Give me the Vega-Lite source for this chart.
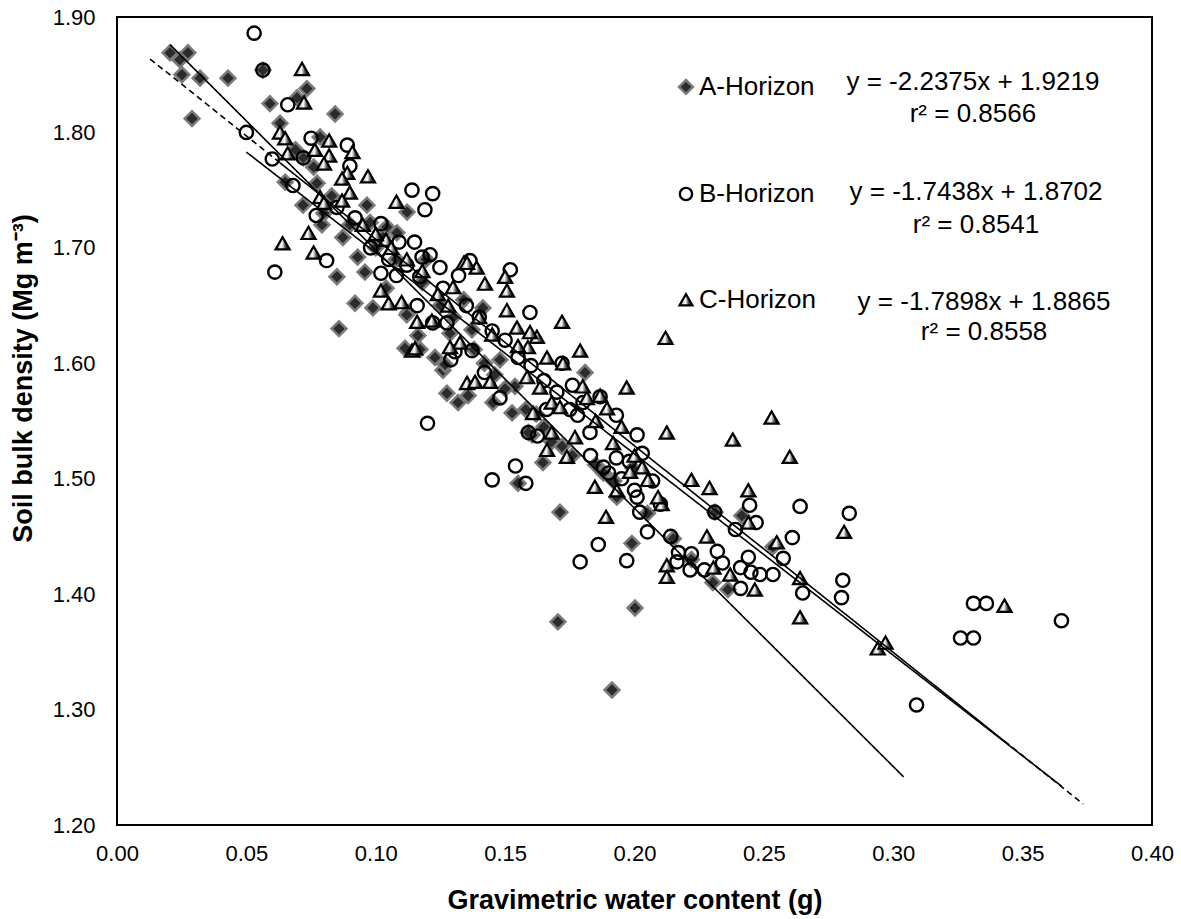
{
  "$schema": "https://vega.github.io/schema/vega-lite/v6.json",
  "width": 1035,
  "height": 808,
  "autosize": {"type": "none"},
  "padding": {"left": 117, "top": 17, "right": 29, "bottom": 94},
  "background": "white",
  "config": {
    "font": "Liberation Sans",
    "view": {"stroke": "#000000", "strokeWidth": 2},
    "axis": {
      "grid": false,
      "ticks": false,
      "tickSize": 0,
      "domain": false,
      "labelFlush": false,
      "labelFont": "Liberation Sans",
      "labelFontSize": 22,
      "labelColor": "#000000",
      "titleFont": "Liberation Sans",
      "titleFontSize": 27,
      "titleFontWeight": "bold",
      "titleColor": "#000000"
    }
  },
  "datasets": {
    "points": [
      {"horizon": "A-Horizon", "w": 0.0205, "bd": 1.869}, {"horizon": "A-Horizon", "w": 0.0243, "bd": 1.863},
      {"horizon": "A-Horizon", "w": 0.0274, "bd": 1.869}, {"horizon": "A-Horizon", "w": 0.0251, "bd": 1.850},
      {"horizon": "A-Horizon", "w": 0.0321, "bd": 1.847}, {"horizon": "A-Horizon", "w": 0.0429, "bd": 1.847},
      {"horizon": "A-Horizon", "w": 0.029, "bd": 1.812}, {"horizon": "A-Horizon", "w": 0.0591, "bd": 1.825},
      {"horizon": "A-Horizon", "w": 0.0734, "bd": 1.838}, {"horizon": "A-Horizon", "w": 0.0696, "bd": 1.830},
      {"horizon": "A-Horizon", "w": 0.0843, "bd": 1.816}, {"horizon": "A-Horizon", "w": 0.063, "bd": 1.808},
      {"horizon": "A-Horizon", "w": 0.0785, "bd": 1.796}, {"horizon": "A-Horizon", "w": 0.065, "bd": 1.757},
      {"horizon": "A-Horizon", "w": 0.0719, "bd": 1.737}, {"horizon": "A-Horizon", "w": 0.0773, "bd": 1.756},
      {"horizon": "A-Horizon", "w": 0.085, "bd": 1.675}, {"horizon": "A-Horizon", "w": 0.093, "bd": 1.692},
      {"horizon": "A-Horizon", "w": 0.0966, "bd": 1.737}, {"horizon": "A-Horizon", "w": 0.0873, "bd": 1.709},
      {"horizon": "A-Horizon", "w": 0.0564, "bd": 1.854}, {"horizon": "A-Horizon", "w": 0.072, "bd": 1.778},
      {"horizon": "A-Horizon", "w": 0.1121, "bd": 1.731}, {"horizon": "A-Horizon", "w": 0.0978, "bd": 1.722},
      {"horizon": "A-Horizon", "w": 0.1043, "bd": 1.718}, {"horizon": "A-Horizon", "w": 0.1082, "bd": 1.713},
      {"horizon": "A-Horizon", "w": 0.1028, "bd": 1.709}, {"horizon": "A-Horizon", "w": 0.0958, "bd": 1.679},
      {"horizon": "A-Horizon", "w": 0.092, "bd": 1.652}, {"horizon": "A-Horizon", "w": 0.0989, "bd": 1.648},
      {"horizon": "A-Horizon", "w": 0.0858, "bd": 1.630}, {"horizon": "A-Horizon", "w": 0.1113, "bd": 1.613},
      {"horizon": "A-Horizon", "w": 0.1171, "bd": 1.612}, {"horizon": "A-Horizon", "w": 0.1229, "bd": 1.605},
      {"horizon": "A-Horizon", "w": 0.126, "bd": 1.594}, {"horizon": "A-Horizon", "w": 0.1275, "bd": 1.574},
      {"horizon": "A-Horizon", "w": 0.1125, "bd": 1.644}, {"horizon": "A-Horizon", "w": 0.0792, "bd": 1.720},
      {"horizon": "A-Horizon", "w": 0.1163, "bd": 1.624}, {"horizon": "A-Horizon", "w": 0.1268, "bd": 1.599},
      {"horizon": "A-Horizon", "w": 0.1318, "bd": 1.566}, {"horizon": "A-Horizon", "w": 0.1357, "bd": 1.572},
      {"horizon": "A-Horizon", "w": 0.1453, "bd": 1.566}, {"horizon": "A-Horizon", "w": 0.1527, "bd": 1.557},
      {"horizon": "A-Horizon", "w": 0.1538, "bd": 1.580}, {"horizon": "A-Horizon", "w": 0.148, "bd": 1.603},
      {"horizon": "A-Horizon", "w": 0.1414, "bd": 1.648}, {"horizon": "A-Horizon", "w": 0.112, "bd": 1.642},
      {"horizon": "A-Horizon", "w": 0.1604, "bd": 1.538}, {"horizon": "A-Horizon", "w": 0.1646, "bd": 1.514},
      {"horizon": "A-Horizon", "w": 0.155, "bd": 1.496}, {"horizon": "A-Horizon", "w": 0.1712, "bd": 1.471},
      {"horizon": "A-Horizon", "w": 0.199, "bd": 1.444}, {"horizon": "A-Horizon", "w": 0.1809, "bd": 1.592},
      {"horizon": "A-Horizon", "w": 0.1932, "bd": 1.484}, {"horizon": "A-Horizon", "w": 0.1994, "bd": 1.509},
      {"horizon": "A-Horizon", "w": 0.1372, "bd": 1.629}, {"horizon": "A-Horizon", "w": 0.1287, "bd": 1.626},
      {"horizon": "A-Horizon", "w": 0.1704, "bd": 1.376}, {"horizon": "A-Horizon", "w": 0.1913, "bd": 1.317},
      {"horizon": "A-Horizon", "w": 0.2002, "bd": 1.388}, {"horizon": "A-Horizon", "w": 0.2415, "bd": 1.468},
      {"horizon": "A-Horizon", "w": 0.2303, "bd": 1.410}, {"horizon": "A-Horizon", "w": 0.2361, "bd": 1.404},
      {"horizon": "A-Horizon", "w": 0.2535, "bd": 1.441}, {"horizon": "A-Horizon", "w": 0.2311, "bd": 1.471},
      {"horizon": "A-Horizon", "w": 0.138, "bd": 1.612}, {"horizon": "A-Horizon", "w": 0.142, "bd": 1.600},
      {"horizon": "A-Horizon", "w": 0.146, "bd": 1.590}, {"horizon": "A-Horizon", "w": 0.150, "bd": 1.578},
      {"horizon": "A-Horizon", "w": 0.158, "bd": 1.560}, {"horizon": "A-Horizon", "w": 0.162, "bd": 1.556},
      {"horizon": "A-Horizon", "w": 0.168, "bd": 1.532}, {"horizon": "A-Horizon", "w": 0.172, "bd": 1.528},
      {"horizon": "A-Horizon", "w": 0.176, "bd": 1.520}, {"horizon": "A-Horizon", "w": 0.185, "bd": 1.512},
      {"horizon": "A-Horizon", "w": 0.188, "bd": 1.505}, {"horizon": "A-Horizon", "w": 0.192, "bd": 1.498},
      {"horizon": "A-Horizon", "w": 0.205, "bd": 1.470}, {"horizon": "A-Horizon", "w": 0.215, "bd": 1.448},
      {"horizon": "A-Horizon", "w": 0.222, "bd": 1.430}, {"horizon": "A-Horizon", "w": 0.118, "bd": 1.670},
      {"horizon": "A-Horizon", "w": 0.125, "bd": 1.650}, {"horizon": "A-Horizon", "w": 0.130, "bd": 1.640},
      {"horizon": "A-Horizon", "w": 0.108, "bd": 1.690}, {"horizon": "A-Horizon", "w": 0.104, "bd": 1.665},
      {"horizon": "A-Horizon", "w": 0.100, "bd": 1.700}, {"horizon": "A-Horizon", "w": 0.090, "bd": 1.720},
      {"horizon": "A-Horizon", "w": 0.083, "bd": 1.745}, {"horizon": "A-Horizon", "w": 0.080, "bd": 1.730},
      {"horizon": "A-Horizon", "w": 0.076, "bd": 1.770}, {"horizon": "A-Horizon", "w": 0.069, "bd": 1.785},
      {"horizon": "A-Horizon", "w": 0.159, "bd": 1.540}, {"horizon": "A-Horizon", "w": 0.1195, "bd": 1.690},
      {"horizon": "A-Horizon", "w": 0.134, "bd": 1.655}, {"horizon": "A-Horizon", "w": 0.165, "bd": 1.545},

      {"horizon": "B-Horizon", "w": 0.053, "bd": 1.886}, {"horizon": "B-Horizon", "w": 0.0564, "bd": 1.854},
      {"horizon": "B-Horizon", "w": 0.066, "bd": 1.824}, {"horizon": "B-Horizon", "w": 0.050, "bd": 1.800},
      {"horizon": "B-Horizon", "w": 0.060, "bd": 1.777}, {"horizon": "B-Horizon", "w": 0.068, "bd": 1.754},
      {"horizon": "B-Horizon", "w": 0.075, "bd": 1.795}, {"horizon": "B-Horizon", "w": 0.089, "bd": 1.789},
      {"horizon": "B-Horizon", "w": 0.090, "bd": 1.771}, {"horizon": "B-Horizon", "w": 0.114, "bd": 1.750},
      {"horizon": "B-Horizon", "w": 0.122, "bd": 1.747}, {"horizon": "B-Horizon", "w": 0.119, "bd": 1.733},
      {"horizon": "B-Horizon", "w": 0.077, "bd": 1.728}, {"horizon": "B-Horizon", "w": 0.092, "bd": 1.726},
      {"horizon": "B-Horizon", "w": 0.085, "bd": 1.735}, {"horizon": "B-Horizon", "w": 0.102, "bd": 1.721},
      {"horizon": "B-Horizon", "w": 0.109, "bd": 1.705}, {"horizon": "B-Horizon", "w": 0.115, "bd": 1.705},
      {"horizon": "B-Horizon", "w": 0.121, "bd": 1.694}, {"horizon": "B-Horizon", "w": 0.081, "bd": 1.689},
      {"horizon": "B-Horizon", "w": 0.061, "bd": 1.679}, {"horizon": "B-Horizon", "w": 0.072, "bd": 1.778},
      {"horizon": "B-Horizon", "w": 0.1179, "bd": 1.692}, {"horizon": "B-Horizon", "w": 0.102, "bd": 1.678},
      {"horizon": "B-Horizon", "w": 0.108, "bd": 1.676}, {"horizon": "B-Horizon", "w": 0.117, "bd": 1.675},
      {"horizon": "B-Horizon", "w": 0.132, "bd": 1.676}, {"horizon": "B-Horizon", "w": 0.1248, "bd": 1.683},
      {"horizon": "B-Horizon", "w": 0.116, "bd": 1.650}, {"horizon": "B-Horizon", "w": 0.122, "bd": 1.635},
      {"horizon": "B-Horizon", "w": 0.1275, "bd": 1.635}, {"horizon": "B-Horizon", "w": 0.129, "bd": 1.603},
      {"horizon": "B-Horizon", "w": 0.1306, "bd": 1.610}, {"horizon": "B-Horizon", "w": 0.120, "bd": 1.548},
      {"horizon": "B-Horizon", "w": 0.154, "bd": 1.511}, {"horizon": "B-Horizon", "w": 0.145, "bd": 1.499},
      {"horizon": "B-Horizon", "w": 0.158, "bd": 1.496}, {"horizon": "B-Horizon", "w": 0.186, "bd": 1.443},
      {"horizon": "B-Horizon", "w": 0.205, "bd": 1.454}, {"horizon": "B-Horizon", "w": 0.214, "bd": 1.450},
      {"horizon": "B-Horizon", "w": 0.201, "bd": 1.538}, {"horizon": "B-Horizon", "w": 0.193, "bd": 1.555},
      {"horizon": "B-Horizon", "w": 0.159, "bd": 1.540}, {"horizon": "B-Horizon", "w": 0.152, "bd": 1.681},
      {"horizon": "B-Horizon", "w": 0.1596, "bd": 1.644}, {"horizon": "B-Horizon", "w": 0.148, "bd": 1.570},
      {"horizon": "B-Horizon", "w": 0.142, "bd": 1.592}, {"horizon": "B-Horizon", "w": 0.176, "bd": 1.581},
      {"horizon": "B-Horizon", "w": 0.1828, "bd": 1.540}, {"horizon": "B-Horizon", "w": 0.193, "bd": 1.518},
      {"horizon": "B-Horizon", "w": 0.202, "bd": 1.471}, {"horizon": "B-Horizon", "w": 0.203, "bd": 1.522},
      {"horizon": "B-Horizon", "w": 0.201, "bd": 1.484}, {"horizon": "B-Horizon", "w": 0.1364, "bd": 1.689},
      {"horizon": "B-Horizon", "w": 0.1801, "bd": 1.566}, {"horizon": "B-Horizon", "w": 0.1867, "bd": 1.571},
      {"horizon": "B-Horizon", "w": 0.1372, "bd": 1.611}, {"horizon": "B-Horizon", "w": 0.197, "bd": 1.429},
      {"horizon": "B-Horizon", "w": 0.217, "bd": 1.436}, {"horizon": "B-Horizon", "w": 0.222, "bd": 1.435},
      {"horizon": "B-Horizon", "w": 0.232, "bd": 1.437}, {"horizon": "B-Horizon", "w": 0.2164, "bd": 1.428},
      {"horizon": "B-Horizon", "w": 0.2215, "bd": 1.421}, {"horizon": "B-Horizon", "w": 0.227, "bd": 1.421},
      {"horizon": "B-Horizon", "w": 0.234, "bd": 1.427}, {"horizon": "B-Horizon", "w": 0.244, "bd": 1.432},
      {"horizon": "B-Horizon", "w": 0.241, "bd": 1.423}, {"horizon": "B-Horizon", "w": 0.245, "bd": 1.419},
      {"horizon": "B-Horizon", "w": 0.2485, "bd": 1.417}, {"horizon": "B-Horizon", "w": 0.2535, "bd": 1.417},
      {"horizon": "B-Horizon", "w": 0.241, "bd": 1.405}, {"horizon": "B-Horizon", "w": 0.2445, "bd": 1.477},
      {"horizon": "B-Horizon", "w": 0.247, "bd": 1.462}, {"horizon": "B-Horizon", "w": 0.239, "bd": 1.456},
      {"horizon": "B-Horizon", "w": 0.261, "bd": 1.449}, {"horizon": "B-Horizon", "w": 0.2575, "bd": 1.431},
      {"horizon": "B-Horizon", "w": 0.264, "bd": 1.476}, {"horizon": "B-Horizon", "w": 0.283, "bd": 1.470},
      {"horizon": "B-Horizon", "w": 0.2805, "bd": 1.412}, {"horizon": "B-Horizon", "w": 0.280, "bd": 1.397},
      {"horizon": "B-Horizon", "w": 0.265, "bd": 1.401}, {"horizon": "B-Horizon", "w": 0.231, "bd": 1.471},
      {"horizon": "B-Horizon", "w": 0.309, "bd": 1.304}, {"horizon": "B-Horizon", "w": 0.326, "bd": 1.362},
      {"horizon": "B-Horizon", "w": 0.331, "bd": 1.362}, {"horizon": "B-Horizon", "w": 0.331, "bd": 1.392},
      {"horizon": "B-Horizon", "w": 0.336, "bd": 1.392}, {"horizon": "B-Horizon", "w": 0.365, "bd": 1.377},
      {"horizon": "B-Horizon", "w": 0.179, "bd": 1.428}, {"horizon": "B-Horizon", "w": 0.098, "bd": 1.700},
      {"horizon": "B-Horizon", "w": 0.105, "bd": 1.690}, {"horizon": "B-Horizon", "w": 0.112, "bd": 1.685},
      {"horizon": "B-Horizon", "w": 0.126, "bd": 1.665}, {"horizon": "B-Horizon", "w": 0.135, "bd": 1.650},
      {"horizon": "B-Horizon", "w": 0.140, "bd": 1.640}, {"horizon": "B-Horizon", "w": 0.145, "bd": 1.628},
      {"horizon": "B-Horizon", "w": 0.150, "bd": 1.620}, {"horizon": "B-Horizon", "w": 0.155, "bd": 1.605},
      {"horizon": "B-Horizon", "w": 0.160, "bd": 1.598}, {"horizon": "B-Horizon", "w": 0.165, "bd": 1.585},
      {"horizon": "B-Horizon", "w": 0.170, "bd": 1.575}, {"horizon": "B-Horizon", "w": 0.172, "bd": 1.600},
      {"horizon": "B-Horizon", "w": 0.175, "bd": 1.560}, {"horizon": "B-Horizon", "w": 0.178, "bd": 1.555},
      {"horizon": "B-Horizon", "w": 0.183, "bd": 1.520}, {"horizon": "B-Horizon", "w": 0.188, "bd": 1.510},
      {"horizon": "B-Horizon", "w": 0.190, "bd": 1.505}, {"horizon": "B-Horizon", "w": 0.195, "bd": 1.500},
      {"horizon": "B-Horizon", "w": 0.198, "bd": 1.515}, {"horizon": "B-Horizon", "w": 0.200, "bd": 1.490},
      {"horizon": "B-Horizon", "w": 0.207, "bd": 1.498}, {"horizon": "B-Horizon", "w": 0.210, "bd": 1.478},
      {"horizon": "B-Horizon", "w": 0.166, "bd": 1.560}, {"horizon": "B-Horizon", "w": 0.1625, "bd": 1.537},

      {"horizon": "C-Horizon", "w": 0.0715, "bd": 1.855}, {"horizon": "C-Horizon", "w": 0.0723, "bd": 1.826},
      {"horizon": "C-Horizon", "w": 0.063, "bd": 1.800}, {"horizon": "C-Horizon", "w": 0.065, "bd": 1.795},
      {"horizon": "C-Horizon", "w": 0.066, "bd": 1.782}, {"horizon": "C-Horizon", "w": 0.082, "bd": 1.793},
      {"horizon": "C-Horizon", "w": 0.0765, "bd": 1.785}, {"horizon": "C-Horizon", "w": 0.082, "bd": 1.780},
      {"horizon": "C-Horizon", "w": 0.080, "bd": 1.773}, {"horizon": "C-Horizon", "w": 0.091, "bd": 1.783},
      {"horizon": "C-Horizon", "w": 0.089, "bd": 1.765}, {"horizon": "C-Horizon", "w": 0.087, "bd": 1.760},
      {"horizon": "C-Horizon", "w": 0.097, "bd": 1.762}, {"horizon": "C-Horizon", "w": 0.0785, "bd": 1.744},
      {"horizon": "C-Horizon", "w": 0.080, "bd": 1.739}, {"horizon": "C-Horizon", "w": 0.090, "bd": 1.748},
      {"horizon": "C-Horizon", "w": 0.087, "bd": 1.741}, {"horizon": "C-Horizon", "w": 0.108, "bd": 1.740},
      {"horizon": "C-Horizon", "w": 0.064, "bd": 1.704}, {"horizon": "C-Horizon", "w": 0.074, "bd": 1.713},
      {"horizon": "C-Horizon", "w": 0.076, "bd": 1.696}, {"horizon": "C-Horizon", "w": 0.104, "bd": 1.707},
      {"horizon": "C-Horizon", "w": 0.102, "bd": 1.663}, {"horizon": "C-Horizon", "w": 0.105, "bd": 1.652},
      {"horizon": "C-Horizon", "w": 0.110, "bd": 1.653}, {"horizon": "C-Horizon", "w": 0.116, "bd": 1.636},
      {"horizon": "C-Horizon", "w": 0.114, "bd": 1.611}, {"horizon": "C-Horizon", "w": 0.134, "bd": 1.687},
      {"horizon": "C-Horizon", "w": 0.1299, "bd": 1.666}, {"horizon": "C-Horizon", "w": 0.1326, "bd": 1.618},
      {"horizon": "C-Horizon", "w": 0.1353, "bd": 1.583}, {"horizon": "C-Horizon", "w": 0.212, "bd": 1.622},
      {"horizon": "C-Horizon", "w": 0.197, "bd": 1.579}, {"horizon": "C-Horizon", "w": 0.179, "bd": 1.611},
      {"horizon": "C-Horizon", "w": 0.172, "bd": 1.636}, {"horizon": "C-Horizon", "w": 0.2125, "bd": 1.540},
      {"horizon": "C-Horizon", "w": 0.222, "bd": 1.499}, {"horizon": "C-Horizon", "w": 0.189, "bd": 1.467},
      {"horizon": "C-Horizon", "w": 0.2105, "bd": 1.478}, {"horizon": "C-Horizon", "w": 0.228, "bd": 1.450},
      {"horizon": "C-Horizon", "w": 0.2125, "bd": 1.425}, {"horizon": "C-Horizon", "w": 0.2125, "bd": 1.415},
      {"horizon": "C-Horizon", "w": 0.2305, "bd": 1.423}, {"horizon": "C-Horizon", "w": 0.237, "bd": 1.417},
      {"horizon": "C-Horizon", "w": 0.2465, "bd": 1.404}, {"horizon": "C-Horizon", "w": 0.244, "bd": 1.462},
      {"horizon": "C-Horizon", "w": 0.255, "bd": 1.445}, {"horizon": "C-Horizon", "w": 0.281, "bd": 1.454},
      {"horizon": "C-Horizon", "w": 0.264, "bd": 1.414}, {"horizon": "C-Horizon", "w": 0.264, "bd": 1.380},
      {"horizon": "C-Horizon", "w": 0.294, "bd": 1.353}, {"horizon": "C-Horizon", "w": 0.297, "bd": 1.358},
      {"horizon": "C-Horizon", "w": 0.343, "bd": 1.390}, {"horizon": "C-Horizon", "w": 0.253, "bd": 1.553},
      {"horizon": "C-Horizon", "w": 0.260, "bd": 1.519}, {"horizon": "C-Horizon", "w": 0.238, "bd": 1.534},
      {"horizon": "C-Horizon", "w": 0.229, "bd": 1.492}, {"horizon": "C-Horizon", "w": 0.244, "bd": 1.490},
      {"horizon": "C-Horizon", "w": 0.139, "bd": 1.683}, {"horizon": "C-Horizon", "w": 0.1422, "bd": 1.669},
      {"horizon": "C-Horizon", "w": 0.150, "bd": 1.675}, {"horizon": "C-Horizon", "w": 0.1507, "bd": 1.663},
      {"horizon": "C-Horizon", "w": 0.1287, "bd": 1.614}, {"horizon": "C-Horizon", "w": 0.1152, "bd": 1.613},
      {"horizon": "C-Horizon", "w": 0.1623, "bd": 1.623}, {"horizon": "C-Horizon", "w": 0.1588, "bd": 1.614},
      {"horizon": "C-Horizon", "w": 0.1662, "bd": 1.605}, {"horizon": "C-Horizon", "w": 0.1724, "bd": 1.600},
      {"horizon": "C-Horizon", "w": 0.1585, "bd": 1.588}, {"horizon": "C-Horizon", "w": 0.1635, "bd": 1.579},
      {"horizon": "C-Horizon", "w": 0.1608, "bd": 1.557}, {"horizon": "C-Horizon", "w": 0.168, "bd": 1.566},
      {"horizon": "C-Horizon", "w": 0.1712, "bd": 1.562}, {"horizon": "C-Horizon", "w": 0.1867, "bd": 1.572},
      {"horizon": "C-Horizon", "w": 0.1816, "bd": 1.570}, {"horizon": "C-Horizon", "w": 0.1894, "bd": 1.561},
      {"horizon": "C-Horizon", "w": 0.1739, "bd": 1.519}, {"horizon": "C-Horizon", "w": 0.1662, "bd": 1.525},
      {"horizon": "C-Horizon", "w": 0.168, "bd": 1.540}, {"horizon": "C-Horizon", "w": 0.177, "bd": 1.536},
      {"horizon": "C-Horizon", "w": 0.1847, "bd": 1.493}, {"horizon": "C-Horizon", "w": 0.1932, "bd": 1.490},
      {"horizon": "C-Horizon", "w": 0.1917, "bd": 1.531}, {"horizon": "C-Horizon", "w": 0.1983, "bd": 1.506},
      {"horizon": "C-Horizon", "w": 0.2052, "bd": 1.499}, {"horizon": "C-Horizon", "w": 0.2091, "bd": 1.484},
      {"horizon": "C-Horizon", "w": 0.1507, "bd": 1.646}, {"horizon": "C-Horizon", "w": 0.1546, "bd": 1.631},
      {"horizon": "C-Horizon", "w": 0.1596, "bd": 1.627}, {"horizon": "C-Horizon", "w": 0.1442, "bd": 1.584},
      {"horizon": "C-Horizon", "w": 0.1384, "bd": 1.584}, {"horizon": "C-Horizon", "w": 0.1217, "bd": 1.637},
      {"horizon": "C-Horizon", "w": 0.1353, "bd": 1.687}, {"horizon": "C-Horizon", "w": 0.095, "bd": 1.720},
      {"horizon": "C-Horizon", "w": 0.100, "bd": 1.712}, {"horizon": "C-Horizon", "w": 0.106, "bd": 1.700},
      {"horizon": "C-Horizon", "w": 0.112, "bd": 1.690}, {"horizon": "C-Horizon", "w": 0.118, "bd": 1.680},
      {"horizon": "C-Horizon", "w": 0.124, "bd": 1.660}, {"horizon": "C-Horizon", "w": 0.128, "bd": 1.650},
      {"horizon": "C-Horizon", "w": 0.140, "bd": 1.640}, {"horizon": "C-Horizon", "w": 0.145, "bd": 1.625},
      {"horizon": "C-Horizon", "w": 0.155, "bd": 1.615}, {"horizon": "C-Horizon", "w": 0.180, "bd": 1.580},
      {"horizon": "C-Horizon", "w": 0.185, "bd": 1.550}, {"horizon": "C-Horizon", "w": 0.195, "bd": 1.545},
      {"horizon": "C-Horizon", "w": 0.200, "bd": 1.520}, {"horizon": "C-Horizon", "w": 0.203, "bd": 1.510}
    ],
    "fits": [
      {"horizon": "A-Horizon", "segment": "A", "part": "fitted", "w": 0.0205, "bd": 1.8760},
      {"horizon": "A-Horizon", "segment": "A", "part": "fitted", "w": 0.304, "bd": 1.2417},
      {"horizon": "B-Horizon", "segment": "B", "part": "fitted", "w": 0.050, "bd": 1.7830},
      {"horizon": "B-Horizon", "segment": "B", "part": "fitted", "w": 0.365, "bd": 1.2337},
      {"horizon": "C-Horizon", "segment": "C-back", "part": "extended", "w": 0.0128, "bd": 1.8636},
      {"horizon": "C-Horizon", "segment": "C-back", "part": "extended", "w": 0.063, "bd": 1.7737},
      {"horizon": "C-Horizon", "segment": "C", "part": "fitted", "w": 0.063, "bd": 1.7737},
      {"horizon": "C-Horizon", "segment": "C", "part": "fitted", "w": 0.343, "bd": 1.2726},
      {"horizon": "C-Horizon", "segment": "C-fwd", "part": "extended", "w": 0.343, "bd": 1.2726},
      {"horizon": "C-Horizon", "segment": "C-fwd", "part": "extended", "w": 0.3734, "bd": 1.2182}
    ],
    "key": [
      {"horizon": "A-Horizon", "w": 0.2199, "bd": 1.8394},
      {"horizon": "B-Horizon", "w": 0.2199, "bd": 1.7467},
      {"horizon": "C-Horizon", "w": 0.2199, "bd": 1.6550}
    ],
    "equations": [
      {"horizon": "A-Horizon", "label": "y = -2.2375x + 1.9219", "w": 0.3308, "bd": 1.8433},
      {"horizon": "A-Horizon", "label": "r² = 0.8566", "w": 0.3308, "bd": 1.8160},
      {"horizon": "B-Horizon", "label": "y = -1.7438x + 1.8702", "w": 0.3320, "bd": 1.7487},
      {"horizon": "B-Horizon", "label": "r² = 0.8541", "w": 0.3320, "bd": 1.7195},
      {"horizon": "C-Horizon", "label": "y = -1.7898x + 1.8865", "w": 0.3351, "bd": 1.6531},
      {"horizon": "C-Horizon", "label": "r² = 0.8558", "w": 0.3351, "bd": 1.6267}
    ]
  },
  "encoding": {
    "x": {
      "field": "w",
      "type": "quantitative",
      "scale": {"domain": [0, 0.4], "nice": false, "zero": false},
      "axis": {
        "values": [0, 0.05, 0.1, 0.15, 0.2, 0.25, 0.3, 0.35, 0.4],
        "format": ".2f",
        "labelPadding": 18,
        "title": "Gravimetric water content (g)",
        "titleBaseline": "alphabetic",
        "titleY": 83
      }
    },
    "y": {
      "field": "bd",
      "type": "quantitative",
      "scale": {"domain": [1.2, 1.9], "nice": false, "zero": false},
      "axis": {
        "values": [1.2, 1.3, 1.4, 1.5, 1.6, 1.7, 1.8, 1.9],
        "format": ".2f",
        "labelPadding": 22,
        "title": "Soil bulk density (Mg m⁻³)",
        "titleAngle": -90,
        "titleAlign": "center",
        "titleBaseline": "alphabetic",
        "titleX": -86,
        "titleY": 361
      }
    }
  },
  "layer": [
    {
      "data": {"name": "points"},
      "transform": [{"filter": "datum.horizon === 'A-Horizon'"}],
      "mark": {"type": "point", "shape": "diamond", "filled": true, "fill": "#2b2b2b", "stroke": "#7a7a7a", "strokeWidth": 2.5, "size": 220, "opacity": 1}
    },
    {
      "data": {"name": "points"},
      "transform": [{"filter": "datum.horizon === 'B-Horizon'"}],
      "mark": {"type": "point", "shape": "circle", "filled": false, "stroke": "#000000", "strokeWidth": 2.4, "size": 175, "opacity": 1}
    },
    {
      "data": {"name": "points"},
      "transform": [{"filter": "datum.horizon === 'C-Horizon'"}],
      "mark": {
        "type": "point", "shape": "triangle-up", "filled": true, "stroke": "#000000", "strokeWidth": 2.2, "size": 200, "opacity": 1,
        "fill": {"gradient": "linear", "x1": 0, "y1": 0, "x2": 1, "y2": 0,
          "stops": [{"offset": 0, "color": "#8c8c8c"}, {"offset": 0.45, "color": "#ffffff"}, {"offset": 0.7, "color": "#4d4d4d"}, {"offset": 1, "color": "#000000"}]}
      }
    },
    {
      "data": {"name": "fits"},
      "mark": {"type": "line", "color": "#000000", "strokeWidth": 1.6},
      "encoding": {
        "detail": {"field": "segment", "type": "nominal"},
        "strokeDash": {"field": "part", "type": "nominal", "scale": {"domain": ["fitted", "extended"], "range": [[1, 0], [6, 4]]}, "legend": null}
      }
    },
    {
      "data": {"name": "key"},
      "transform": [{"filter": "datum.horizon === 'A-Horizon'"}],
      "mark": {"type": "point", "shape": "diamond", "filled": true, "fill": "#2b2b2b", "stroke": "#7a7a7a", "strokeWidth": 2.5, "size": 190, "opacity": 1}
    },
    {
      "data": {"name": "key"},
      "transform": [{"filter": "datum.horizon === 'B-Horizon'"}],
      "mark": {"type": "point", "shape": "circle", "filled": false, "stroke": "#000000", "strokeWidth": 2.4, "size": 150, "opacity": 1}
    },
    {
      "data": {"name": "key"},
      "transform": [{"filter": "datum.horizon === 'C-Horizon'"}],
      "mark": {
        "type": "point", "shape": "triangle-up", "filled": true, "stroke": "#000000", "strokeWidth": 2.2, "size": 170, "opacity": 1,
        "fill": {"gradient": "linear", "x1": 0, "y1": 0, "x2": 1, "y2": 0,
          "stops": [{"offset": 0, "color": "#8c8c8c"}, {"offset": 0.45, "color": "#ffffff"}, {"offset": 0.7, "color": "#4d4d4d"}, {"offset": 1, "color": "#000000"}]}
      }
    },
    {
      "data": {"name": "key"},
      "mark": {"type": "text", "align": "left", "baseline": "middle", "dx": 13, "fontSize": 26, "font": "Liberation Sans", "color": "#000000"},
      "encoding": {"text": {"field": "horizon", "type": "nominal"}}
    },
    {
      "data": {"name": "equations"},
      "mark": {"type": "text", "align": "center", "baseline": "middle", "fontSize": 26, "font": "Liberation Sans", "color": "#000000"},
      "encoding": {"text": {"field": "label", "type": "nominal"}}
    }
  ]
}
